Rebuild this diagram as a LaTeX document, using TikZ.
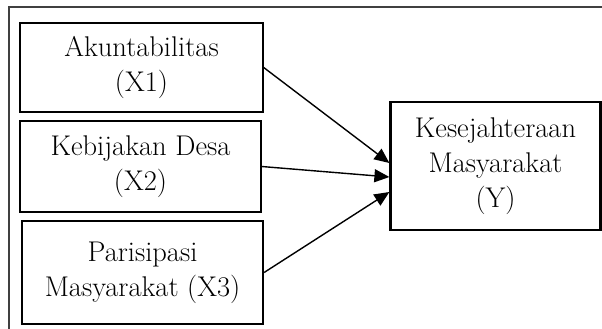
\documentclass[tikz,border=0pt]{standalone}
\usetikzlibrary{arrows.meta}
\begin{document}
\begin{tikzpicture}[x=1pt,y=-1pt,
  box/.style={draw,line width=1.4pt,align=center,inner sep=0pt,font=\fontsize{28.5}{35}\selectfont},
  conn/.style={line width=1.4pt,-{Triangle[length=15pt,width=13pt]}}]
\useasboundingbox (0,0) rectangle (602,329);
\draw[black!75,line width=1.2pt] (9,329) -- (9,7) -- (602,7);
\node[box,minimum width=243pt,minimum height=89pt] (a) at (141.5,67.5) {Akuntabilitas\\(X1)};
\node[box,minimum width=241pt,minimum height=91pt] (b) at (140.5,166.5) {Kebijakan Desa\\(X2)};
\node[box,line width=2.2pt,minimum width=241pt,minimum height=103pt] (c) at (142.5,272.5) {Parisipasi\\Masyarakat (X3)};
\node[box,line width=2.2pt,minimum width=210pt,minimum height=128pt] (y) at (495.5,166) {Kesejahteraan\\Masyarakat\\(Y)};
\draw[conn] (a.east) -- ([yshift=3pt]y.west);
\draw[conn] (b.east) -- ([yshift=-11pt]y.west);
\draw[conn] (c.east) -- ([yshift=-26pt]y.west);
\end{tikzpicture}
\end{document}
